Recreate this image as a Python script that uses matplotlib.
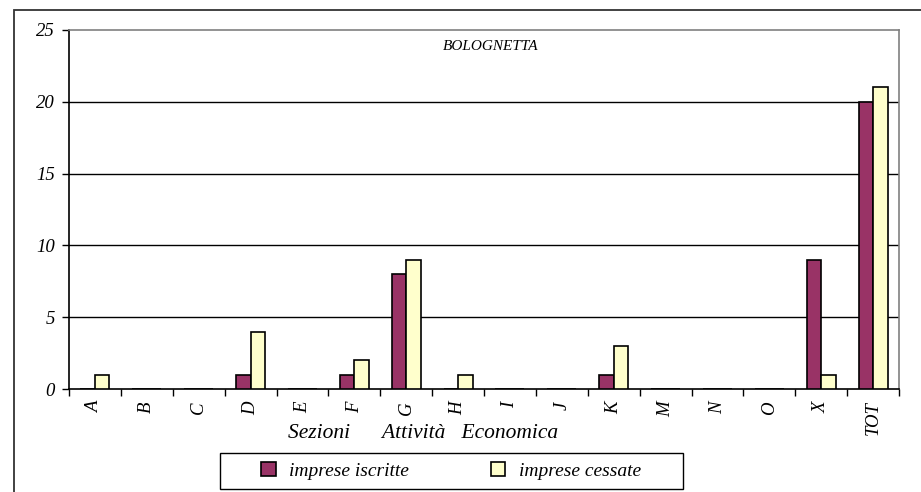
import matplotlib
matplotlib.use("Agg")
import matplotlib.pyplot as plt
from matplotlib.patches import Rectangle
import numpy as np

plt.rcParams["font.family"] = ["Liberation Serif", "DejaVu Serif"]
plt.rcParams["font.style"] = "italic"

# data
sezioni = ["A", "B", "C", "D", "E", "F", "G", "H", "I", "J", "K", "M", "N", "O", "X", "TOT"]
iscritte = [0, 0, 0, 1, 0, 1, 8, 0, 0, 0, 1, 0, 0, 0, 9, 20]
cessate = [1, 0, 0, 4, 0, 2, 9, 1, 0, 0, 3, 0, 0, 0, 1, 21]
y_ticks = [0, 5, 10, 15, 20, 25]

W, H = 921, 492
fig = plt.figure(figsize=(W / 100, H / 100), dpi=100)

# outer chart border (cut off on the right and bottom)
fig.patches.append(Rectangle((14 / W, -0.05), 1.0, 1 - 10 / H + 0.05,
                             transform=fig.transFigure, fill=False,
                             edgecolor="#333333", linewidth=1.3))

ax = fig.add_axes([69 / W, 1 - 389 / H, (899 - 69) / W, (389 - 30) / H])

x = np.arange(len(sezioni)) + 0.5
w = 0.28
ax.bar(x - w / 2, iscritte, w, color="#993366", edgecolor="black", linewidth=1.2,
       label="imprese iscritte", zorder=3)
ax.bar(x + w / 2, cessate, w, color="#FFFFCC", edgecolor="black", linewidth=1.2,
       label="imprese cessate", zorder=3)

ax.set_xlim(0, len(sezioni))
ax.set_ylim(0, 25)
ax.set_yticks(y_ticks)
ax.set_yticklabels([str(v) for v in y_ticks], fontsize=13.5)
ax.set_xticks(x)
ax.set_xticklabels(sezioni, rotation=90, fontsize=13.5)
ax.set_xticks(np.arange(len(sezioni) + 1), minor=True)
ax.tick_params(axis="x", which="major", length=0, pad=9)
ax.tick_params(axis="x", which="minor", length=5, width=1, color="black")
ax.tick_params(axis="y", length=5, width=1, pad=5)

for v in y_ticks[1:-1]:
    ax.axhline(v, color="black", linewidth=1, zorder=1)

ax.spines["left"].set_color("black")
ax.spines["bottom"].set_color("black")
ax.spines["top"].set_color("#808080")
ax.spines["right"].set_color("#808080")
for s in ax.spines.values():
    s.set_linewidth(1.2)

fig.text(491 / W, 1 - 47 / H, "BOLOGNETTA", ha="center", va="center", fontsize=11)
fig.text(423 / W, 1 - 433 / H, "Sezioni      Attività   Economica", ha="center",
         va="center", fontsize=15.5)

# legend box is wider than its entries, so draw the frame separately
fig.patches.append(Rectangle((220 / W, 1 - 489 / H), (683 - 220) / W, 36 / H,
                             transform=fig.transFigure, fill=False,
                             edgecolor="black", linewidth=1.0))
leg = fig.legend(loc="center", bbox_to_anchor=(451 / W, 1 - 471 / H), ncol=2,
                 fontsize=14, frameon=False,
                 handlelength=0.75, handleheight=0.75, columnspacing=4.2,
                 borderpad=0.45, handletextpad=0.7)

fig.savefig("out.png", dpi=100)
